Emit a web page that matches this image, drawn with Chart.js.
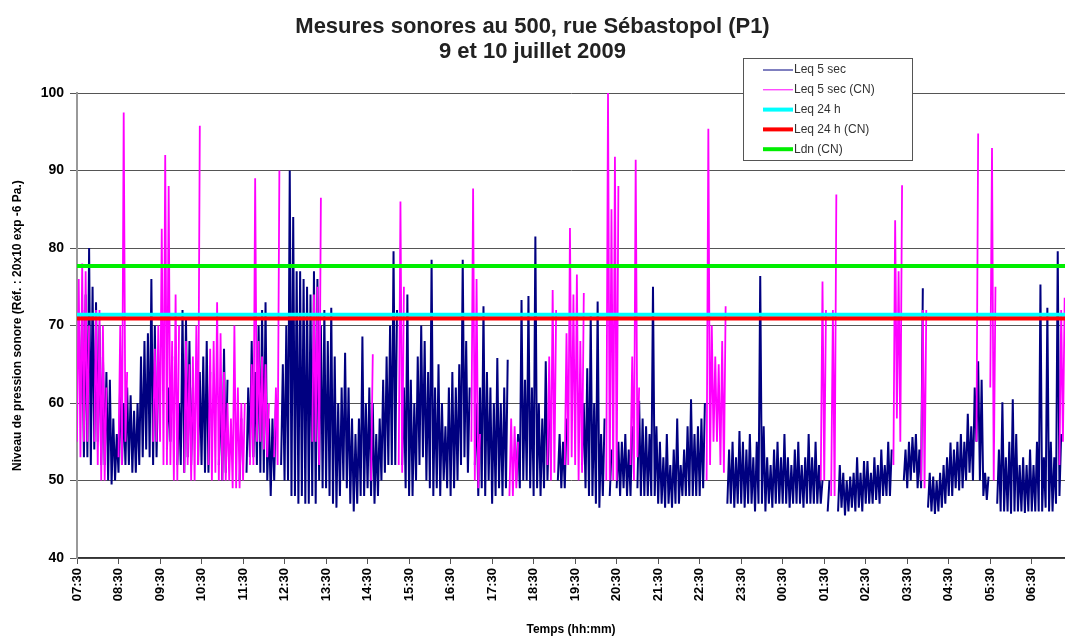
<!DOCTYPE html>
<html>
<head>
<meta charset="utf-8">
<script src="https://cdn.jsdelivr.net/npm/chart.js"></script>
<style>
  html, body { margin: 0; padding: 0; background: #fff; }
  #wrap { width: 1065px; height: 641px; }
</style>
</head>
<body>
<div id="wrap"><canvas id="lineChart" width="1065" height="641"></canvas></div>
<script>
// x ticks, one per hour starting 07:30
const tickLabels = ['07:30','08:30','09:30','10:30','11:30','12:30','13:30','14:30','15:30','16:30','17:30','18:30',
  '19:30','20:30','21:30','22:30','23:30','00:30','01:30','02:30','03:30','04:30','05:30','06:30'];

// Leq 5 sec : [min, max] for each 5 minute slice, null = no data in that slice
const leq5 = [
  null,[60,72],[53,74],[53,80],[52,75],[54,73],[55,70],[52,66],[52,64],[50,63],[49.5,58],[50,56],
  [51,63],[52,60],[52,62],[52,61],[51,59],[51,60],[52,66],[53,68],[54,69],[53,76],[52,70],[53,65],
  null,null,[54,62],[55,66],null,[52,60],[52,72],[51,71],[53,68],[52,62],null,[52,64],
  [52,66],[51,68],[51,64],null,null,[52,62],[50,67],[51,63],null,null,null,[50,58],
  null,[51,62],[53,68],[53,64],[52,70],[51,72],[51,73],[50,58],[48,58],[50,60],null,[52,65],
  [50,70],[50,90],[48,84],[48,77],[47,77],[48,76],[47,75],[47,74],[48,77],[47,76],[50,70],[49,72],
  [49,68],[48,72.3],[47,66],[46.5,60],[48,62],[50,66.5],[49,62],[47,58],[46,56],[47,58],[48,68.6],[48,60],
  [49,62],[48,60],[47,56],[48,58],[50,63],[51,66],[52,70],[52,79.6],[52,72],null,[52,62],[49,74],
  [48,63],[48,60],[50,66],[52,70],[53,68],[50,64],[49,78.5],[48,62],[49,65],[48,60],[50,57],[49,62],
  [48,64],[49,62],[50,65],[52,78.5],[53,68],[51,62],null,[52,60],[48,62],[49,72.5],[48,64],[50,62],
  [47,60],[48,65.8],[49,60],[48,62],[49,65.6],null,null,[50,56],[49,73.3],[50,63],[50,73.8],[49,62],
  [48,81.5],[49,60],[48,58],[49,65.4],[50,58],null,null,[50,56],[49,55],[49,58],null,null,
  null,null,[52,60],[49,64.5],[48,71.4],[48,60],[47,73.1],[46.5,56],[48,58],null,[48,54],null,
  [49,55],[48,55],[49,56],[48,54],[48,57],null,[49,60.3],[48,58],[48,57],[48,56],[48,75],[48,57],
  [47,55],[47,53],[46.5,56],[47,52],[46.5,54],[47,58],[47,52],[48,54],[48,57],[48,60.5],[48,56],[48,57],
  [48,58],[49,60],null,null,null,null,null,null,[47,54],[47,55],[46.5,53],[47,56.4],
  [47,55],[46.5,54],[47,56],[47,53],[46,55],[47,76.4],[47,57],[46,53],[47,52],[46.5,54],[47,55],[47,53],
  [47,56],[47,53],[46.5,52],[47,54],[47,55],[47,52],[46.5,53],[47,56],[47,53],[47,55],[47,52],[47,50],
  null,[46,50],null,null,[46,52],[46.5,51],[45.5,50],[46,50.5],[46.5,51],[46,53],[46.5,51],[46,52.5],
  [47,52.5],[47,51],[47,53],[47.5,52],[47,54],[48,52],[48,55],[48,54],null,null,null,[50,54],
  [49,55],[50,55.6],[51,56],[49,54],[49,74.8],null,[46.5,51],[46,50.5],[45.7,50],[46,51],[46.5,52],[47,53],
  [48,54.9],[48,54],[49,55],[48.7,56],[49,55],[50,58.6],[51,57],[50,62],[55,65.4],[50,63],[48,51],[47.5,50.5],
  null,null,[47,54],[46,60.1],[46,53],[46,55],[45.7,60.5],[46,56],[46,52],[46,53],[45.8,52],[46,54],
  [46,52],[46,55],[46,75.3],[46,53],[46.5,72.3],[46,55],[46,53],[47,79.6],[48,56],null
];

// Leq 5 sec (CN)
const leq5cn = [
  [55,76],[53,78],[55,77],[55,70],null,[55,72],[52,72],[50,70],[50,62],null,null,null,
  [53,70],[52,97.5],[55,64],null,null,null,null,null,null,null,[55,67],[55,70],
  [55,82.5],[52,92],[52,88],[52,68],[50,74],[50,70],null,[51,68],[52,65],[50,66],[50,70],[52,95.8],
  null,null,[52,67],[50,68],[51,73],[50,69],[50,64],[50,60],[50,58],[49,70],[49,62],[49,60],
  [50,60],null,[52,65],[52,89],[55,68],[55,66],[54,65],[53,60],null,[53,62],[52,90],null,
  null,null,null,null,null,null,null,null,[55,74],[55,75],[52,86.5],null,
  null,null,null,null,null,null,null,null,null,null,null,null,
  null,[50,66.3],null,null,null,null,null,null,null,[52,86],[51,75],null,
  null,null,null,null,null,null,null,null,null,null,null,null,
  null,null,null,null,null,null,[55,87.7],[50,76],[49,56],null,null,null,
  null,null,null,null,null,[48,58],[48,57],[49,55],null,null,null,null,
  null,null,null,null,[52,66],[50,74.6],[51,72],null,null,[52,69],[52,82.6],[53,74],
  [52,76.6],[50,68],[51,74.2],null,null,null,null,null,null,[50,100],[50,85],[50,91.8],
  [50,88],null,null,null,[52,66],[50,91.4],[53,62],null,null,null,null,null,
  null,null,null,null,null,null,null,null,null,null,null,null,
  null,null,[50,95.4],[52,70],[55,66],[55,65],[52,68],[51,72.5],null,null,null,null,
  null,null,null,null,null,null,null,null,null,null,null,null,
  null,null,null,null,null,null,null,null,null,null,null,[50,75.7],
  [50,72],null,[48,72],[48,86.9],null,null,null,null,null,null,null,null,
  null,null,null,null,null,null,null,null,[52,83.6],[58,77],[55,88.1],null,
  null,null,null,null,[50,72],[49,72],null,null,null,null,null,null,
  null,null,null,null,null,null,null,null,[55,94.8],null,null,null,
  [62,92.9],[50,75],null,null,null,null,null,null,null,null,null,null,
  null,null,null,null,null,null,null,null,[52,72],[55,73.6]
];

const leq24 = 71.4;
const leq24cn = 70.9;
const ldnCn = 77.7;

const stepMin = 5;
const endMin = 1428;

function toPoints(pairs) {
  const pts = [];
  pairs.forEach((p, i) => {
    const t = i * stepMin;
    if (!p) { pts.push({ x: t, y: null }); return; }
    pts.push({ x: t, y: p[0] }, { x: t + stepMin / 2, y: p[1] });
  });
  return pts;
}
function flat(v) { return [{ x: 0, y: v }, { x: endMin, y: v }]; }

const boxLegend = {
  id: 'boxLegend',
  afterDraw(chart) {
    const ctx = chart.ctx;
    ctx.save();
    ctx.fillStyle = '#fff';
    ctx.fillRect(743, 58, 169, 102);
    ctx.strokeStyle = '#555';
    ctx.lineWidth = 1;
    ctx.strokeRect(743.5, 58.5, 169, 102);
    ctx.font = '12px "Liberation Sans", Arial, sans-serif';
    ctx.textBaseline = 'middle';
    chart.data.datasets.forEach((ds, i) => {
      const y = 70 + i * 19.8;
      ctx.strokeStyle = ds.borderColor;
      ctx.lineWidth = ds.legendWidth;
      ctx.beginPath(); ctx.moveTo(763, y); ctx.lineTo(793, y); ctx.stroke();
      ctx.fillStyle = '#333';
      ctx.fillText(ds.label, 794, y);
    });
    ctx.restore();
  }
};

Chart.defaults.font.family = '"Liberation Sans", Arial, sans-serif';
Chart.defaults.color = '#000';

new Chart(document.getElementById('lineChart'), {
  type: 'line',
  data: {
    datasets: [
      { label: 'Leq 5 sec', data: toPoints(leq5), borderColor: '#000080', borderWidth: 2, legendWidth: 1, order: 5 },
      { label: 'Leq 5 sec (CN)', data: toPoints(leq5cn), borderColor: '#ff00ff', borderWidth: 1.8, legendWidth: 1, order: 4 },
      { label: 'Leq 24 h', data: flat(leq24), borderColor: '#00ffff', borderWidth: 4, legendWidth: 4, order: 3 },
      { label: 'Leq 24 h (CN)', data: flat(leq24cn), borderColor: '#ff0000', borderWidth: 4, legendWidth: 4, order: 2 },
      { label: 'Ldn (CN)', data: flat(ldnCn), borderColor: '#00ee00', borderWidth: 4, legendWidth: 4, order: 1 }
    ]
  },
  options: {
    responsive: false,
    animation: false,
    spanGaps: false,
    elements: { point: { radius: 0 }, line: { tension: 0 } },
    layout: { padding: { top: 10, right: 0, left: 0, bottom: 0 }, autoPadding: false },
    plugins: {
      legend: { display: false },
      tooltip: { enabled: false },
      title: {
        display: true,
        text: ['Mesures sonores au 500, rue Sébastopol (P1)', '9 et 10 juillet 2009'],
        font: { size: 22, weight: 'bold', lineHeight: 1.15 },
        color: '#222',
        padding: { top: 4, bottom: 28.5 }
      }
    },
    scales: {
      x: {
        type: 'linear',
        min: 0,
        max: endMin,
        afterBuildTicks(scale) { scale.ticks = scale.ticks.filter(t => t.value % 60 === 0); },
        afterFit(scale) { scale.height = 83; },
        ticks: {
          stepSize: 60,
          autoSkip: false,
          maxRotation: 90,
          minRotation: 90,
          padding: 4,
          font: { size: 13, weight: 'bold' },
          callback: v => tickLabels[v / 60]
        },
        grid: { drawOnChartArea: false, tickLength: 6, color: '#555' },
        border: { color: '#333', width: 1.5 },
        title: { display: true, text: 'Temps (hh:mm)', font: { size: 12, weight: 'bold' }, padding: { top: 0 } }
      },
      y: {
        min: 40,
        max: 100,
        afterFit(scale) { scale.width = 77; },
        ticks: { stepSize: 10, padding: 6, font: { size: 14, weight: 'bold' } },
        grid: { color: '#555', tickLength: 7 },
        border: { color: '#999', width: 2 },
        title: { display: true, text: 'Niveau de pression sonore (Réf. : 20x10 exp -6 Pa.)', font: { size: 12, weight: 'bold' }, padding: { top: 10, bottom: 0 } }
      }
    }
  },
  plugins: [boxLegend]
});
</script>
</body>
</html>
